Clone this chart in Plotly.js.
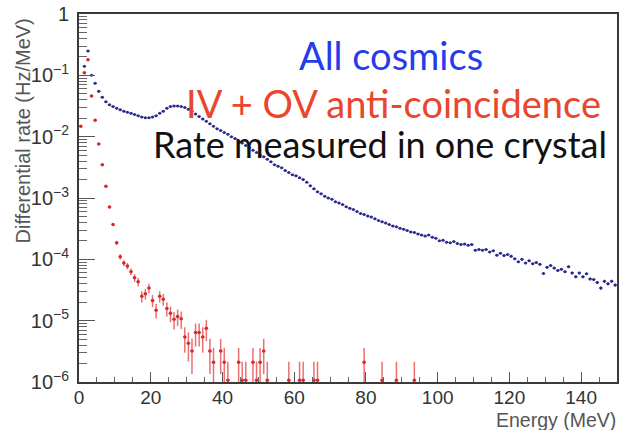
<!DOCTYPE html>
<html>
<head>
<meta charset="utf-8">
<script src="https://cdn.plot.ly/plotly-3.0.1.min.js"></script>
<style>
  html, body { margin: 0; padding: 0; background: #fff; }
  #chart { width: 619px; height: 430px; }
</style>
</head>
<body>
<div id="chart"></div>
<script>
// ---------------- DATA ----------------
// Bin centres in MeV (1 MeV bins) for the "All cosmics" spectrum
const allEnergy = [
  0.5, 1.5, 2.5, 3.5, 4.5, 5.5, 6.5, 7.5, 8.5, 9.5,
  10.5, 11.5, 12.5, 13.5, 14.5, 15.5, 16.5, 17.5, 18.5, 19.5,
  20.5, 21.5, 22.5, 23.5, 24.5, 25.5, 26.5, 27.5, 28.5, 29.5,
  30.5, 31.5, 32.5, 33.5, 34.5, 35.5, 36.5, 37.5, 38.5, 39.5,
  40.5, 41.5, 42.5, 43.5, 44.5, 45.5, 46.5, 47.5, 48.5, 49.5,
  50.5, 51.5, 52.5, 53.5, 54.5, 55.5, 56.5, 57.5, 58.5, 59.5,
  60.5, 61.5, 62.5, 63.5, 64.5, 65.5, 66.5, 67.5, 68.5, 69.5,
  70.5, 71.5, 72.5, 73.5, 74.5, 75.5, 76.5, 77.5, 78.5, 79.5,
  80.5, 81.5, 82.5, 83.5, 84.5, 85.5, 86.5, 87.5, 88.5, 89.5,
  90.5, 91.5, 92.5, 93.5, 94.5, 95.5, 96.5, 97.5, 98.5, 99.5,
  100.5, 101.5, 102.5, 103.5, 104.5, 105.5, 106.5, 107.5, 108.5, 109.5,
  110.5, 111.5, 112.5, 113.5, 114.5, 115.5, 116.5, 117.5, 118.5, 119.5,
  120.5, 121.5, 122.5, 123.5, 124.5, 125.5, 126.5, 127.5, 128.5, 129.5,
  130.5, 131.5, 132.5, 133.5, 134.5, 135.5, 136.5, 137.5, 138.5, 139.5,
  140.5, 141.5, 142.5, 143.5, 144.5, 145.5, 146.5, 147.5, 148.5, 149.5
];
// Differential rate (Hz/MeV), all cosmics
const allRate = [
  null, 0.14, 0.25, 0.10, 0.074, 0.055, 0.044, 0.037, 0.033, 0.031,
  0.029, 0.0275, 0.026, 0.025, 0.024, 0.023, 0.022, 0.021, 0.0204, 0.0204,
  0.021, 0.022, 0.024, 0.026, 0.029, 0.031, 0.0316, 0.0316, 0.031, 0.030,
  0.028, 0.0257, 0.0234, 0.0214, 0.0195, 0.0178, 0.0162, 0.0148, 0.0135, 0.0126,
  0.0117, 0.011, 0.0100, 0.0093, 0.0085, 0.0079, 0.0072, 0.0066, 0.0060, 0.0055,
  0.0050, 0.0047, 0.0043, 0.0039, 0.0035, 0.0033, 0.0031, 0.0028, 0.0026, 0.0024,
  0.0023, 0.00214, 0.0020, 0.0018, 0.00158, 0.00141, 0.00126, 0.00117, 0.00107, 0.00100,
  0.00095, 0.00087, 0.00083, 0.00078, 0.00072, 0.00068, 0.00065, 0.00060, 0.00056, 0.00054,
  0.00051, 0.00049, 0.00046, 0.00043, 0.00041, 0.00039, 0.00037, 0.00035, 0.00034, 0.00032,
  0.00031, 0.000295, 0.00028, 0.000275, 0.00026, 0.00025, 0.00024, 0.00025, 0.00023, 0.00022,
  0.00020, 0.000204, 0.00019, 0.000186, 0.000195, 0.000182, 0.000174, 0.000178, 0.00017, 0.000174,
  0.000141, 0.000145, 0.000141, 0.000145, 0.000132, 0.000138, 0.000117, 0.000126, 0.000115, 0.00012,
  0.000112, 0.000102, 0.000091, 0.00010, 0.000087, 0.000095, 0.000085, 0.000089, 0.000083, 0.000059,
  0.000074, 0.000079, 0.000072, 0.000066, 0.000069, 0.000063, 0.000076, 0.000060, 0.000052, 0.000060,
  0.000052, 0.000058, 0.000048, 0.000047, 0.000042, 0.000034, 0.000044, 0.000040, 0.000044, 0.000038
];
// Rate per single count (sets the statistical error bars)
const allOneCount = 1.5e-7;

// IV + OV anti-coincidence spectrum (only the filled bins)
const vetoEnergy = [
  0.5, 1.5, 2.5, 3.5, 4.5, 5.5, 6.5, 7.5, 8.5, 9.5,
  10.5, 11.5, 12.5, 13.5, 14.5, 15.5, 16.5, 17.5, 18.5, 19.5,
  20.5, 21.5, 22.5, 23.5, 24.5, 25.5, 26.5, 27.5, 28.5, 29.5,
  30.5, 31.5, 32.5, 33.5, 34.5, 35.5, 36.5, 37.5, 39.5, 40.5,
  41.5, 44.5, 45.5, 46.5, 48.5, 49.5, 50.5, 51.5, 52.5, 58.5,
  61.5, 62.5, 65.5, 66.5, 79.5, 84.5, 88.5, 93.5
];
const vetoRate = [
  0.0148, 0.11, 0.18, 0.046, 0.0186, 0.0076, 0.0035, 0.00155, 0.00071, 0.00037,
  0.000186, 0.00011, 0.000087, 0.000078, 0.000063, 0.000050, 0.000043, 0.000025, 0.0000275, 0.000034,
  0.0000214, 0.0000148, 0.000025, 0.0000224, 0.0000158, 0.0000132, 0.0000105, 0.0000117, 0.0000107, 5.4e-6,
  4.3e-6, 3.2e-6, 6.4e-6, 6.4e-6, 5.4e-6, 7.5e-6, 3.2e-6, 2.1e-6, 3.2e-6, 2.1e-6,
  1.07e-6, 2.1e-6, 1.07e-6, 1.07e-6, 2.1e-6, 1.07e-6, 2.1e-6, 3.2e-6, 1.07e-6, 1.07e-6,
  1.07e-6, 1.07e-6, 1.07e-6, 1.07e-6, 2.1e-6, 1.07e-6, 1.07e-6, 1.07e-6
];
const vetoOneCount = 1.07e-6;

// Y tick labels (decades)
const yTickVals = [1e-6, 1e-5, 1e-4, 1e-3, 1e-2, 1e-1, 1];
const yTickText = ['10<sup>−6</sup>', '10<sup>−5</sup>', '10<sup>−4</sup>', '10<sup>−3</sup>',
                   '10<sup>−2</sup>', '10<sup>−1</sup>', '1'];

const xTitle = 'Energy (MeV)';
const yTitle = 'Differential rate (Hz/MeV)';
const labelAll = 'All cosmics';
const labelVeto = 'IV + OV anti-coincidence';
const labelNote = 'Rate measured in one crystal';

// ---------------- PLOT ----------------
function statErr(vals, unit) {
  return vals.map(v => (v == null ? null : Math.sqrt(v * unit)));
}

const W = 619, H = 430;
const M = { l: 79, r: 2, t: 14, b: 48 };
const PW = W - M.l - M.r, PH = H - M.t - M.b;
const px = x => (x - M.l) / PW;
const py = y => (H - M.b - y) / PH;

const traces = [
  {
    type: 'scatter', mode: 'markers',
    x: allEnergy, y: allRate,
    marker: { color: '#2a2a8c', size: 3 },
    error_y: { type: 'data', array: statErr(allRate, allOneCount), color: '#3a3a9a', thickness: 1, width: 0 },
    error_x: { type: 'constant', value: 0.5, color: '#3a3a9a', thickness: 1, width: 0 },
    hoverinfo: 'skip', showlegend: false
  },
  {
    type: 'scatter', mode: 'markers',
    x: vetoEnergy, y: vetoRate,
    marker: { color: '#d42a2a', size: 3.5 },
    error_y: { type: 'data', array: statErr(vetoRate, vetoOneCount), color: '#ec7070', thickness: 1.5, width: 0 },
    error_x: { type: 'constant', value: 0.5, color: '#ec7070', thickness: 1, width: 0 },
    hoverinfo: 'skip', showlegend: false
  }
];

const axisFamily = 'Liberation Sans, Arial, sans-serif';
const overlayFont = 'Lato, sans-serif';

const layout = {
  width: W, height: H,
  margin: M,
  paper_bgcolor: '#fff', plot_bgcolor: '#fff',
  showlegend: false,
  xaxis: {
    range: [0, 150], tick0: 0, dtick: 20,
    ticks: 'inside', ticklen: 10, tickwidth: 1, tickcolor: '#555',
    showline: true, linecolor: '#3a3a3a', linewidth: 2, mirror: true,
    showgrid: false, zeroline: false,
    tickfont: { family: axisFamily, size: 19, color: '#333' }, ticklabelstandoff: -3,
    minor: { dtick: 5, ticks: 'inside', ticklen: 5, tickwidth: 1, tickcolor: '#666', showgrid: false }
  },
  yaxis: {
    type: 'log', range: [-6, 0],
    tickmode: 'array', tickvals: yTickVals, ticktext: yTickText,
    ticks: 'inside', ticklen: 16, tickwidth: 1, tickcolor: '#555',
    showline: true, linecolor: '#3a3a3a', linewidth: 2, mirror: true,
    showgrid: false, zeroline: false,
    tickfont: { family: axisFamily, size: 20, color: '#333' }, ticklabelstandoff: 4,
    minor: { dtick: 'D1', ticks: 'inside', ticklen: 8, tickwidth: 1, tickcolor: '#666', showgrid: false }
  },
  annotations: [
    { text: yTitle, xref: 'paper', yref: 'paper', x: px(22), y: py(17), xanchor: 'center', yanchor: 'top',
      textangle: -90, showarrow: false, font: { family: axisFamily, size: 20, color: '#555' } },
    { text: xTitle, xref: 'paper', yref: 'paper', x: px(618), y: py(420), xanchor: 'right', yanchor: 'middle',
      showarrow: false, font: { family: axisFamily, size: 19.5, color: '#555' } },
    { text: labelAll, xref: 'paper', yref: 'paper', x: px(391), y: py(55), xanchor: 'center', yanchor: 'middle',
      showarrow: false, font: { family: overlayFont, size: 38, color: '#263ceb' } },
    { text: labelVeto, xref: 'paper', yref: 'paper', x: px(393), y: py(103), xanchor: 'center', yanchor: 'middle',
      showarrow: false, font: { family: overlayFont, size: 38, color: '#e8462d' } },
    { text: labelNote, xref: 'paper', yref: 'paper', x: px(380), y: py(144), xanchor: 'center', yanchor: 'middle',
      showarrow: false, font: { family: overlayFont, size: 36, color: '#111' } }
  ]
};

Plotly.newPlot('chart', traces, layout, { staticPlot: true, displayModeBar: false });
</script>
</body>
</html>
